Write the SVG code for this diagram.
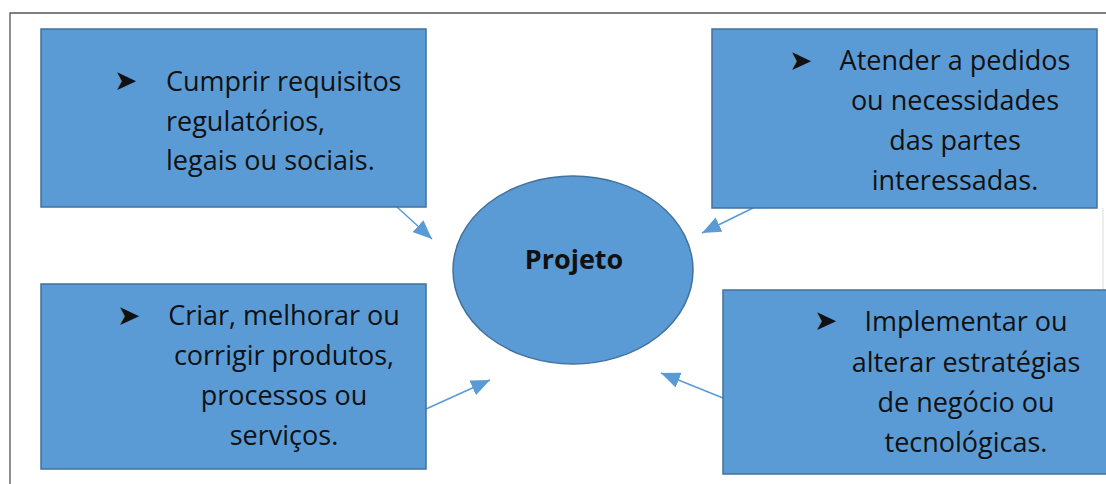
<svg xmlns="http://www.w3.org/2000/svg" width="1106" height="484" viewBox="0 0 1106 484">
<defs>
<style>
.box{fill:#5B9BD5;stroke:#41719C;stroke-width:1.5}
.t{font-family:"Open Sans","Liberation Sans",sans-serif;font-size:27px;fill:#111}
.c{text-anchor:middle}
.b{font-family:"DejaVu Sans",sans-serif;font-size:28px;fill:#111}
.conn{stroke:#5B9BD5;stroke-width:1.6;fill:none;marker-end:url(#ah)}
</style>
<marker id="ah" markerUnits="userSpaceOnUse" markerWidth="20" markerHeight="16" refX="19" refY="8" orient="auto">
<path d="M0,0 L19,8 L0,16 Z" fill="#5B9BD5"/>
</marker>
</defs>
<rect width="1106" height="484" fill="#fff"/>
<g id="frame" fill="none" stroke="#555" stroke-width="1.3">
<path d="M10,484 V13 H1106"/>
<path d="M1103,208 V290" stroke="#e4e4e4"/>
</g>
<g id="connectors">
<line class="conn" x1="397" y1="207" x2="432" y2="239"/>
<line class="conn" x1="753" y1="208" x2="702" y2="233"/>
<line class="conn" x1="426" y1="409" x2="490" y2="380"/>
<line class="conn" x1="723" y1="398" x2="661" y2="373"/>
</g>
<g id="projeto">
<ellipse cx="573" cy="270" rx="120" ry="94" class="box"/>
<text x="574" y="269" class="t c" font-weight="bold" font-size="25">Projeto</text>
</g>
<g id="box1">
<rect x="41" y="29" width="385" height="178" class="box"/>
<text x="114" y="90" class="b">➤</text>
<text class="t"><tspan x="166" y="91">Cumprir requisitos</tspan><tspan x="166" y="131">regulatórios,</tspan><tspan x="166" y="170">legais ou sociais.</tspan></text>
</g>
<g id="box2">
<rect x="712" y="29" width="385" height="179" class="box"/>
<text x="789" y="70" class="b">➤</text>
<text class="t c"><tspan x="955" y="70">Atender a pedidos</tspan><tspan x="955" y="110">ou necessidades</tspan><tspan x="955" y="150">das partes</tspan><tspan x="955" y="190">interessadas.</tspan></text>
</g>
<g id="box3">
<rect x="41" y="284" width="385" height="185" class="box"/>
<text x="117" y="325" class="b">➤</text>
<text class="t c"><tspan x="284" y="325">Criar, melhorar ou</tspan><tspan x="284" y="365">corrigir produtos,</tspan><tspan x="284" y="405">processos ou</tspan><tspan x="284" y="445">serviços.</tspan></text>
</g>
<g id="box4">
<rect x="723" y="290" width="390" height="184" class="box"/>
<text x="814" y="330" class="b">➤</text>
<text class="t c"><tspan x="966" y="331">Implementar ou</tspan><tspan x="966" y="372">alterar estratégias</tspan><tspan x="966" y="412">de negócio ou</tspan><tspan x="966" y="452">tecnológicas.</tspan></text>
</g>
</svg>
